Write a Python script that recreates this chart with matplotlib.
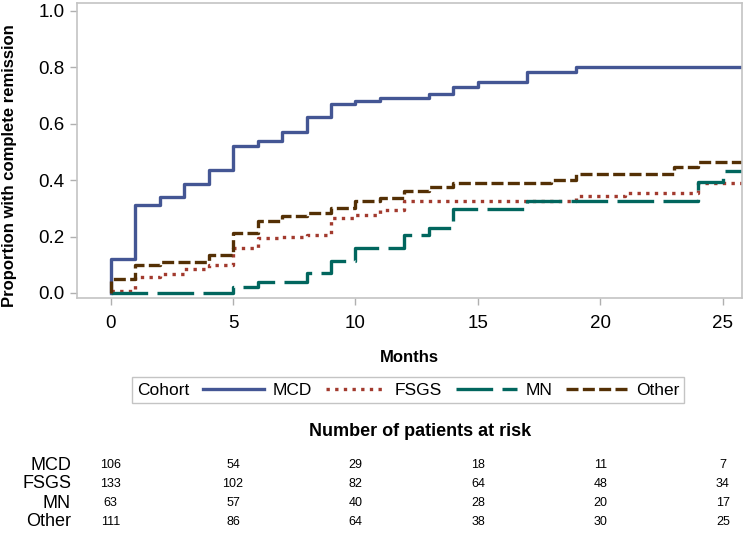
import matplotlib
matplotlib.use('Agg')
import matplotlib.pyplot as plt
from matplotlib.lines import Line2D
from matplotlib.transforms import blended_transform_factory

plt.rcParams['font.family'] = ['Liberation Sans', 'DejaVu Sans']

cohorts = ['MCD', 'FSGS', 'MN', 'Other']
colors = ['#445694', '#A23A2E', '#01665E', '#543005']

# cumulative proportion in complete remission (step changes, months)
mcd_t = [0, 0, 1, 2, 3, 4, 5, 6, 7, 8, 9, 10, 11, 13, 14, 15, 17, 19, 26]
mcd_p = [0, 0.12, 0.31, 0.34, 0.385, 0.435, 0.52, 0.537, 0.57, 0.625, 0.67,
         0.68, 0.69, 0.705, 0.73, 0.747, 0.782, 0.80, 0.80]
fsgs_t = [0, 1, 2, 3, 4, 5, 6, 7, 8, 9, 10, 11, 12, 19, 21, 24, 26]
fsgs_p = [0.008, 0.057, 0.068, 0.085, 0.10, 0.16, 0.195, 0.20, 0.207, 0.266,
          0.275, 0.293, 0.327, 0.343, 0.354, 0.39, 0.39]
mn_t = [0, 5, 6, 8, 9, 10, 12, 13, 14, 17, 24, 25, 26]
mn_p = [0, 0.021, 0.038, 0.072, 0.113, 0.16, 0.207, 0.231, 0.299, 0.327,
        0.393, 0.431, 0.431]
other_t = [0, 0, 1, 2, 4, 5, 6, 7, 8, 9, 10, 11, 12, 13, 14, 18, 19, 23, 24, 26]
other_p = [0, 0.048, 0.10, 0.108, 0.134, 0.213, 0.254, 0.272, 0.284, 0.301,
           0.325, 0.337, 0.36, 0.375, 0.389, 0.402, 0.422, 0.445, 0.464, 0.464]

# number at risk table
risk_months = [0, 5, 10, 15, 20, 25]
mcd_risk = [106, 54, 29, 18, 11, 7]
fsgs_risk = [133, 102, 82, 64, 48, 34]
mn_risk = [63, 57, 40, 28, 20, 17]
other_risk = [111, 86, 64, 38, 30, 25]

x_ticks = [0, 5, 10, 15, 20, 25]
y_ticks = [0.0, 0.2, 0.4, 0.6, 0.8, 1.0]

W, H = 744, 537
fig = plt.figure(figsize=(W / 100, H / 100), dpi=100)
ax = fig.add_axes([77 / W, 1 - 298 / H, 665 / W, 295 / H])

curves = [(mcd_t, mcd_p), (fsgs_t, fsgs_p), (mn_t, mn_p), (other_t, other_p)]
dashes = [None, (1, 1.6), (11, 2.8), (3.6, 1.3)]
lines = []
for (t, p), name, c, d in zip(curves, cohorts, colors, dashes):
    ln, = ax.step(t, p, where='post', color=c, lw=2.4, label=name)
    if d is not None:
        ln.set_dashes(d)
    lines.append(ln)

ax.set_xlim(-1.37, 25.78)
ax.set_ylim(-0.018, 1.028)
ax.set_xticks(x_ticks)
ax.set_yticks(y_ticks)
ax.set_yticklabels(['%.1f' % v for v in y_ticks])

for s in ax.spines.values():
    s.set_color('#c4c4c4')
    s.set_linewidth(1.2)
ax.tick_params(axis='both', colors='#b0b0b0', labelcolor='black',
               labelsize=13.5, length=5, width=1)
ax.tick_params(axis='x', pad=7)
ax.tick_params(axis='y', pad=4)

ax.set_ylabel('Proportion with complete remission', fontsize=12, fontweight='bold')
ax.yaxis.set_label_coords(-0.09, 0.45)
ax.set_xlabel('Months', fontsize=12, fontweight='bold')
ax.xaxis.set_label_coords(0.5, -0.175)

# legend with inline "Cohort" title
blank = Line2D([], [], linestyle='none')
leg = ax.legend([blank] + lines, ['Cohort'] + cohorts, ncol=5, loc='center',
                bbox_to_anchor=(408 / W, 1 - 390 / H),
                bbox_transform=fig.transFigure, fontsize=12.5,
                handlelength=3.5, handletextpad=0.5, columnspacing=0.8,
                borderpad=0.3, fancybox=False, framealpha=1)
leg.get_frame().set_edgecolor('#c4c4c4')
leg.get_frame().set_linewidth(1.0)
first = leg._legend_handle_box.get_children()[0].get_children()[0]
first.get_children()[0].width = 0
first.sep = 0

# at-risk table
fig.text(420 / W, 1 - 432 / H, 'Number of patients at risk', ha='center',
         va='center', fontsize=13, fontweight='bold')
trans = blended_transform_factory(ax.transData, fig.transFigure)
risk_rows = [mcd_risk, fsgs_risk, mn_risk, other_risk]
row_y = [465, 484, 503, 522]
for name, row, yy in zip(cohorts, risk_rows, row_y):
    fig.text(71 / W, 1 - yy / H, name, ha='right', va='center', fontsize=13)
    for m, n in zip(risk_months, row):
        fig.text(m, 1 - yy / H, str(n), transform=trans, ha='center',
                 va='center', fontsize=9,
                 family=['Liberation Sans Narrow', 'Liberation Sans'])

fig.savefig('out.png', dpi=100)
